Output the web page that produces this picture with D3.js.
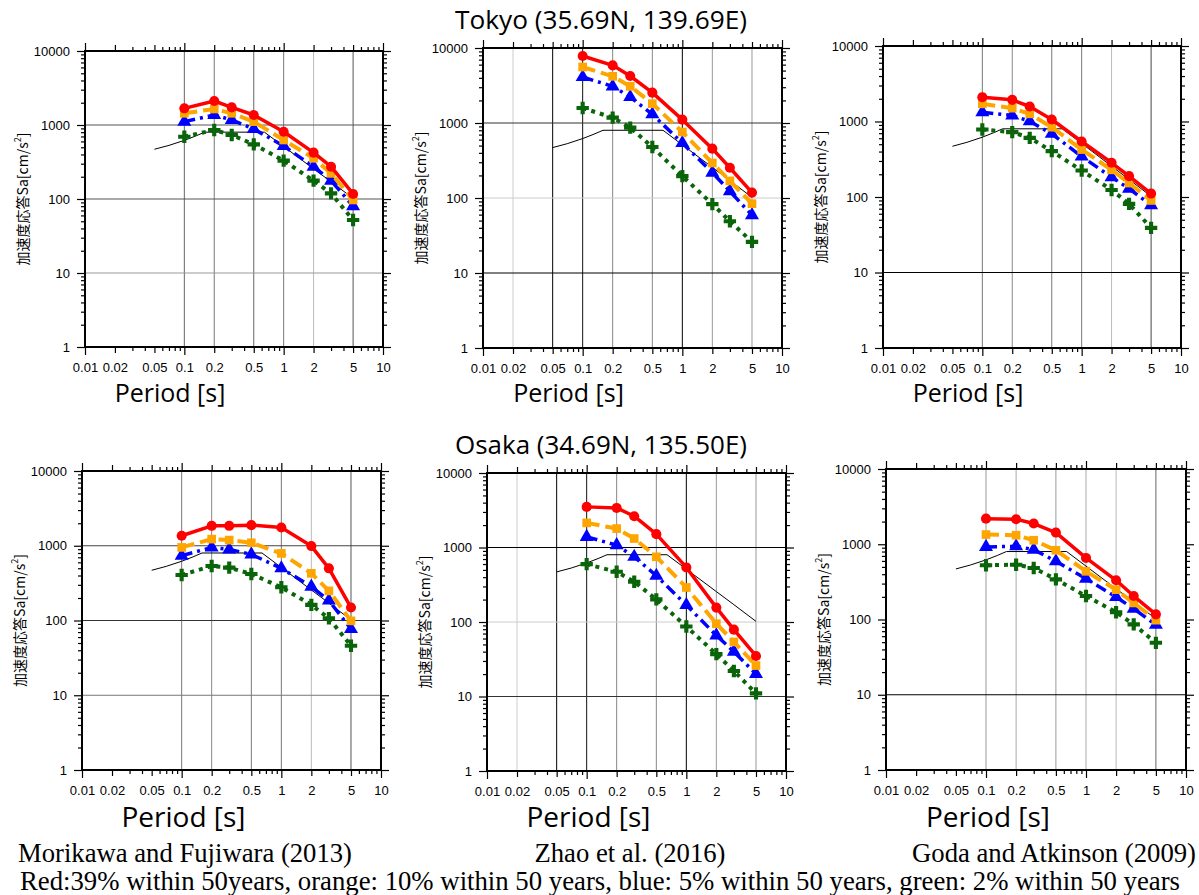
<!DOCTYPE html>
<html><head><meta charset="utf-8">
<script src="https://cdn.jsdelivr.net/npm/d3@7"></script>
<style>body{margin:0;background:#fff} svg{display:block}</style>
</head><body>
<svg id="c" width="1199" height="895"></svg>
<script>
// Spectral periods [s]
const periods = [0.1, 0.2, 0.3, 0.5, 1, 2, 3, 5];

// Uniform hazard spectra Sa [cm/s^2]: red 39%, orange 10%, blue 5%, green 2% in 50 years
const tokyoMF_red    = [1680, 2110, 1730, 1365, 810, 423, 273, 117];
const tokyoMF_orange = [1440, 1645, 1440, 1110, 627, 355, 222, 97];
const tokyoMF_blue   = [1110, 1365, 1170, 883, 520, 273, 177, 80];
const tokyoMF_green  = [695, 855, 733, 548, 330, 177, 119, 52];

const tokyoZh_red    = [7820, 5870, 4230, 2540, 1108, 455, 253, 118];
const tokyoZh_orange = [5580, 4190, 3080, 1810, 759, 293, 169, 84];
const tokyoZh_blue   = [4100, 3080, 2220, 1305, 541, 218, 123, 59];
const tokyoZh_green  = [1585, 1178, 867, 479, 196, 83, 49, 26];

const tokyoGA_red    = [2100, 1935, 1580, 1063, 543, 284, 189, 111];
const tokyoGA_orange = [1713, 1502, 1263, 841, 425, 229, 153, 90];
const tokyoGA_blue   = [1329, 1200, 1010, 687, 344, 183, 129, 78];
const tokyoGA_green  = [783, 722, 608, 405, 224, 124, 81, 39];

const osakaMF_red    = [1360, 1848, 1848, 1887, 1755, 990, 499, 149];
const osakaMF_orange = [950, 1227, 1190, 1096, 790, 428, 249, 99];
const osakaMF_blue   = [735, 950, 894, 766, 499, 284, 185, 77];
const osakaMF_green  = [406, 536, 509, 419, 278, 162, 107, 46];

const osakaZh_red    = [3510, 3397, 2630, 1510, 540, 156, 79, 35];
const osakaZh_orange = [2140, 1796, 1320, 750, 291, 95, 54, 26];
const osakaZh_blue   = [1390, 1075, 750, 418, 169, 66, 40, 20];
const osakaZh_green  = [598, 472, 347, 201, 87, 37, 22, 11];

const osakaGA_red    = [2190, 2150, 1885, 1430, 658, 332, 205, 117];
const osakaGA_orange = [1345, 1318, 1130, 832, 437, 249, 166, 98];
const osakaGA_blue   = [922, 940, 849, 594, 349, 199, 139, 85];
const osakaGA_green  = [525, 535, 484, 342, 205, 125, 86, 49];

// Building-code design spectrum (thin black line)
const designT  = [0.05, 0.07, 0.1, 0.13, 0.16, 0.64, 1, 2, 3, 5];
const designSa = [470, 530, 620, 710, 800, 800, 512, 256, 171, 102];

// Axis ticks
const xTickLabels = [0.01, 0.02, 0.05, 0.1, 0.2, 0.5, 1, 2, 5, 10];
const yTickLabels = [1, 10, 100, 1000, 10000];

// Text
const titles = ["Tokyo (35.69N, 139.69E)", "Osaka (34.69N, 135.50E)"];
const modelNames = ["Morikawa and Fujiwara (2013)", "Zhao et al. (2016)", "Goda and Atkinson (2009)"];
const footnote = "Red:39% within 50years, orange: 10% within 50 years, blue: 5% within 50 years, green: 2% within 50 years";

// Series styling
const seriesStyle = [
  {color: "#ff0000", dash: null,         width: 3.5, symbol: d3.symbolCircle,   size: 80},
  {color: "#ffa500", dash: "13 6",       width: 4,   symbol: d3.symbolSquare,   size: 75},
  {color: "#0000ff", dash: "11 5 3 5",   width: 3.5, symbol: d3.symbolTriangle, size: 85},
  {color: "#0a640a", dash: "4 5",        width: 4,   symbol: d3.symbolCross,    size: 85}
];

const panels = [
  {x0: 85,  x1: 383,  y0: 51,  y1: 347, data: [tokyoMF_red, tokyoMF_orange, tokyoMF_blue, tokyoMF_green],
   xg: [[0.1,"#666"],[0.2,"#777"],[0.5,"#666"],[1,"#777"],[2,"#bbb"],[5,"#555"]],
   yg: [[10,"#999"],[100,"#555"],[1000,"#555"]]},
  {x0: 483, x1: 782,  y0: 48,  y1: 348, data: [tokyoZh_red, tokyoZh_orange, tokyoZh_blue, tokyoZh_green],
   xg: [[0.02,"#ccc"],[0.05,"#000"],[0.1,"#111"],[0.2,"#888"],[0.5,"#888"],[1,"#000"],[2,"#999"],[5,"#999"]],
   yg: [[10,"#000"],[100,"#ccc"],[1000,"#333"]]},
  {x0: 883, x1: 1181, y0: 46,  y1: 348, data: [tokyoGA_red, tokyoGA_orange, tokyoGA_blue, tokyoGA_green],
   xg: [[0.1,"#777"],[0.2,"#888"],[0.5,"#777"],[1,"#777"],[2,"#bbb"],[5,"#444"]],
   yg: [[10,"#000"]]},
  {x0: 82,  x1: 381,  y0: 471, y1: 770, data: [osakaMF_red, osakaMF_orange, osakaMF_blue, osakaMF_green],
   xg: [[0.1,"#777"],[0.2,"#888"],[0.5,"#777"],[1,"#777"],[2,"#bbb"],[5,"#555"]],
   yg: [[10,"#777"],[100,"#333"],[1000,"#444"]]},
  {x0: 487, x1: 786,  y0: 473, y1: 771, data: [osakaZh_red, osakaZh_orange, osakaZh_blue, osakaZh_green],
   xg: [[0.02,"#ccc"],[0.05,"#000"],[0.1,"#111"],[0.2,"#888"],[0.5,"#888"],[1,"#000"],[2,"#999"],[5,"#999"]],
   yg: [[10,"#333"],[100,"#ccc"],[1000,"#000"]]},
  {x0: 886, x1: 1186, y0: 469, y1: 770, data: [osakaGA_red, osakaGA_orange, osakaGA_blue, osakaGA_green],
   xg: [[0.1,"#999"],[0.2,"#aaa"],[0.5,"#999"],[1,"#aaa"],[2,"#bbb"],[5,"#666"]],
   yg: [[10,"#000"]]}
];

const svg = d3.select("#c");
const tickFont = "'Liberation Sans', Arial, Helvetica, sans-serif";

// minor tick values for log axes
function minorTicks(lo, hi, keep) {
  const out = [];
  for (let d = lo; d < hi; d *= 10) for (let m = 2; m <= 9; m++) if (keep(m)) out.push(d * m);
  return out;
}
const xMinor = minorTicks(0.01, 10, m => m !== 2 && m !== 5);
const yMinor = minorTicks(1, 10000, () => true);
const isDecade = v => Math.abs(Math.log10(v) - Math.round(Math.log10(v))) < 1e-9;

panels.forEach((p, i) => {
  const x = d3.scaleLog().domain([0.01, 10]).range([p.x0, p.x1]);
  const y = d3.scaleLog().domain([1, 10000]).range([p.y1, p.y0]);
  const g = svg.append("g");

  // grid
  g.selectAll(".gx").data(p.xg).join("line")
    .attr("x1", d => x(d[0])).attr("x2", d => x(d[0]))
    .attr("y1", p.y0).attr("y2", p.y1)
    .attr("stroke", d => d[1]).attr("stroke-width", 1);
  g.selectAll(".gy").data(p.yg).join("line")
    .attr("x1", p.x0).attr("x2", p.x1)
    .attr("y1", d => y(d[0])).attr("y2", d => y(d[0]))
    .attr("stroke", d => d[1]).attr("stroke-width", 1);

  // axes
  const fmt = d => d3.format("~g")(d);
  const addAxis = (axis, tx, ty) => {
    const a = g.append("g").attr("transform", `translate(${tx},${ty})`).call(axis);
    a.select(".domain").remove();
    a.selectAll("line").attr("stroke", "#000").attr("stroke-width", 1.2);
    a.selectAll("text").attr("font-family", tickFont).attr("font-size", 13).attr("fill", "#000");
    return a;
  };
  // bottom labelled
  const xb = addAxis(d3.axisBottom(x).tickValues(xTickLabels).tickFormat(fmt).tickSize(8).tickPadding(8), 0, p.y1);
  xb.selectAll(".tick line").attr("y2", d => isDecade(d) ? 8 : 6);
  addAxis(d3.axisBottom(x).tickValues(xMinor).tickFormat("").tickSize(4), 0, p.y1);
  // top
  const xt = addAxis(d3.axisTop(x).tickValues(xTickLabels).tickFormat("").tickSize(8), 0, p.y0);
  xt.selectAll(".tick line").attr("y2", d => isDecade(d) ? -8 : -6);
  addAxis(d3.axisTop(x).tickValues(xMinor).tickFormat("").tickSize(4), 0, p.y0);
  // left labelled
  addAxis(d3.axisLeft(y).tickValues(yTickLabels).tickFormat(fmt).tickSize(8).tickPadding(7), p.x0, 0);
  addAxis(d3.axisLeft(y).tickValues(yMinor).tickFormat("").tickSize(4), p.x0, 0);
  // right
  addAxis(d3.axisRight(y).tickValues(yTickLabels).tickFormat("").tickSize(8), p.x1, 0);
  addAxis(d3.axisRight(y).tickValues(yMinor).tickFormat("").tickSize(4), p.x1, 0);

  // design spectrum
  const line = d3.line().x(d => x(d[0])).y(d => y(d[1]));
  g.append("path").datum(d3.zip(designT, designSa)).attr("d", line)
    .attr("fill", "none").attr("stroke", "#000").attr("stroke-width", 1);

  // hazard spectra, green drawn first so red stays on top
  for (let s = 3; s >= 0; s--) {
    const st = seriesStyle[s];
    const pts = d3.zip(periods, p.data[s]);
    g.append("path").datum(pts).attr("d", line)
      .attr("fill", "none").attr("stroke", st.color).attr("stroke-width", st.width)
      .attr("stroke-dasharray", st.dash).attr("stroke-linejoin", "round");
    g.selectAll(null).data(pts).join("path")
      .attr("transform", d => `translate(${x(d[0])},${y(d[1])})`)
      .attr("d", d3.symbol().type(st.symbol).size(st.size))
      .attr("fill", st.color);
  }

  // frame
  g.append("rect").attr("x", p.x0).attr("y", p.y0)
    .attr("width", p.x1 - p.x0).attr("height", p.y1 - p.y0)
    .attr("fill", "none").attr("stroke", "#000").attr("stroke-width", 2);

  // y label
  const cy = (p.y0 + p.y1) / 2, lx = p.x0 - 63;
  const yl = g.append("text")
    .attr("transform", `translate(${lx},${cy}) rotate(-90)`)
    .attr("text-anchor", "middle").attr("dominant-baseline", "central")
    .attr("font-family", "'Noto Sans CJK JP', 'Liberation Sans', sans-serif").attr("font-size", 14);
  yl.append("tspan").text("加速度応答Sa[cm/s");
  yl.append("tspan").text("2").attr("font-size", 9).attr("dy", -5);
  yl.append("tspan").text("]").attr("dy", 5);

  // x label
  const top = i < 3;
  g.append("text").attr("x", (p.x0 + p.x1) / 2 - (top ? 64 : 48))
    .attr("y", top ? 402 : 827)
    .attr("text-anchor", "middle")
    .attr("font-family", "'Open Sans', sans-serif").attr("font-size", top ? 25 : 28)
    .text("Period [s]");
});

// location titles
svg.selectAll(".title").data(titles).join("text")
  .attr("x", 601).attr("y", (d, i) => i === 0 ? 29 : 454)
  .attr("text-anchor", "middle")
  .attr("font-family", "'Open Sans', sans-serif").attr("font-size", 26)
  .attr("textLength", 292).attr("lengthAdjust", "spacingAndGlyphs")
  .text(d => d);

// model captions
const capX = [185, 630, 1054], capW = [334, 191, 284];
svg.selectAll(".cap").data(modelNames).join("text")
  .attr("x", (d, i) => capX[i]).attr("y", 862)
  .attr("text-anchor", "middle")
  .attr("font-family", "'Liberation Serif', 'Times New Roman', serif").attr("font-size", 27)
  .attr("textLength", (d, i) => capW[i]).attr("lengthAdjust", "spacingAndGlyphs")
  .text(d => d);

svg.append("text").attr("x", 600).attr("y", 890)
  .attr("text-anchor", "middle")
  .attr("font-family", "'Liberation Serif', 'Times New Roman', serif").attr("font-size", 27)
  .attr("textLength", 1160).attr("lengthAdjust", "spacingAndGlyphs")
  .text(footnote);
</script>
</body></html>
